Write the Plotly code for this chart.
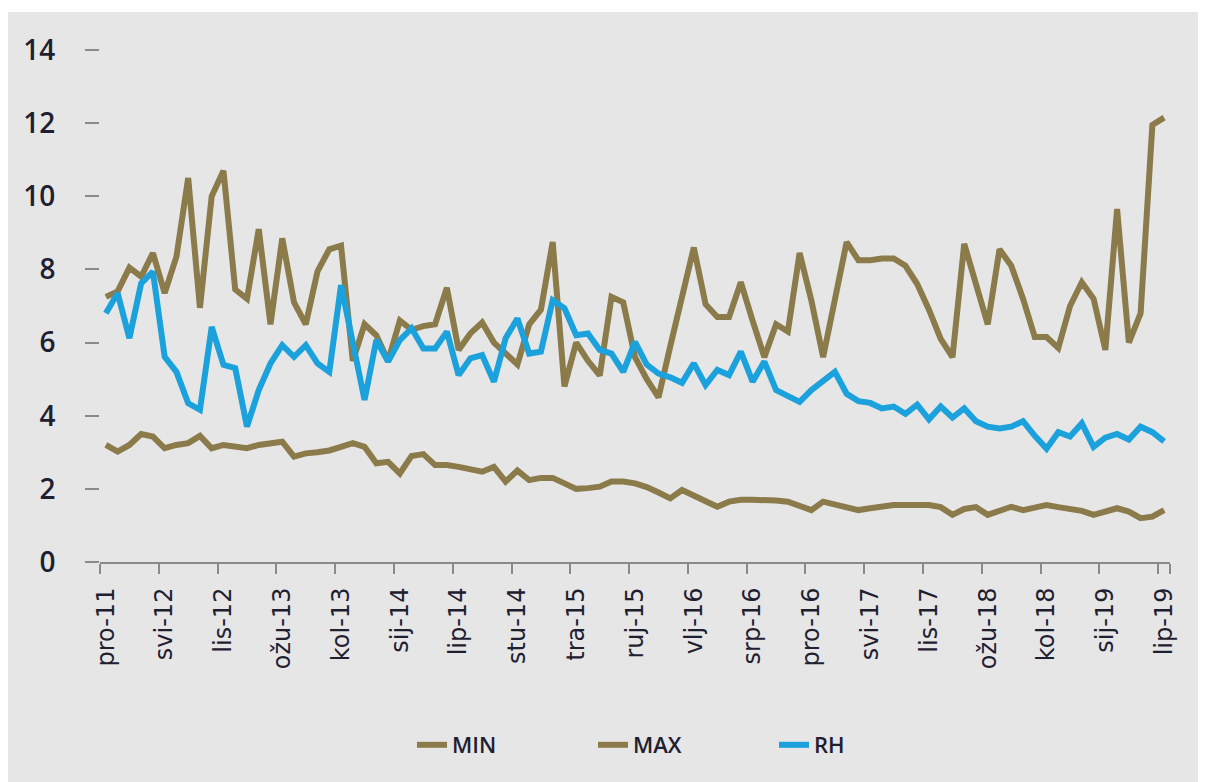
import plotly.graph_objects as go

# Croatian month abbreviations as used on the axis
month_abbr = ["sij", "vlj", "ožu", "tra", "svi", "lip", "srp", "kol", "ruj", "lis", "stu", "pro"]

# Monthly categories: pro-11 ... lip-19 (91 months)
months = []
y, m = 2011, 11  # December 2011 (0-based month index)
while True:
    months.append(f"{month_abbr[m]}-{str(y)[2:]}")
    if y == 2019 and m == 5:
        break
    m += 1
    if m == 12:
        m = 0
        y += 1

tick_labels = months[::5]

min_vals = [3.2, 3.02, 3.2, 3.5, 3.43, 3.11, 3.2, 3.25, 3.45, 3.11,
            3.2, 3.15, 3.11, 3.2, 3.25, 3.29, 2.88, 2.97, 3.0, 3.05,
            3.15, 3.25, 3.15, 2.7, 2.74, 2.42, 2.9, 2.95, 2.65, 2.65,
            2.6, 2.55, 2.47, 2.6, 2.2, 2.5, 2.24, 2.3, 2.3, 2.15,
            2.0, 2.02, 2.06, 2.2, 2.2, 2.15, 2.05, 1.9, 1.74, 1.97,
            1.83, 1.65, 1.51, 1.65, 1.7, 1.7, 1.7, 1.68, 1.65, 1.55,
            1.42, 1.65, 1.56, 1.48, 1.42, 1.47, 1.52, 1.56, 1.56, 1.56,
            1.56, 1.5, 1.29, 1.45, 1.5, 1.29, 1.4, 1.51, 1.42, 1.5,
            1.56, 1.5, 1.47, 1.4, 1.29, 1.4, 1.47, 1.38, 1.2, 1.24,
            1.42]

max_vals = [7.25, 7.4, 8.05, 7.8, 8.45, 7.35, 8.35, 10.5, 6.95, 10.0,
            10.7, 7.45, 7.2, 9.1, 6.5, 8.85, 7.1, 6.5, 7.95, 8.55,
            8.65, 5.5, 6.5, 6.2, 5.5, 6.6, 6.35, 6.45, 6.5, 7.5,
            5.8, 6.25, 6.55, 6.0, 5.7, 5.4, 6.5, 6.9, 8.75, 4.8,
            6.0, 5.5, 5.1, 7.25, 7.1, 5.6, 5.0, 4.5, 5.9, 7.3,
            8.6, 7.05, 6.7, 6.7, 7.65, 6.6, 5.6, 6.5, 6.3, 8.45,
            7.15, 5.6, 7.1, 8.75, 8.25, 8.25, 8.3, 8.3, 8.1, 7.6,
            6.9, 6.1, 5.6, 8.7, 7.6, 6.5, 8.55, 8.1, 7.2, 6.15,
            6.15, 5.85, 7.0, 7.65, 7.2, 5.8, 9.65, 6.0, 6.8, 11.95,
            12.15]

rh_vals = [6.8, 7.35, 6.12, 7.62, 7.94, 5.61, 5.2, 4.34, 4.16, 6.43,
           5.39, 5.3, 3.7, 4.7, 5.43, 5.93, 5.61, 5.93, 5.43, 5.2,
           7.57, 6.0, 4.43, 6.07, 5.48, 6.07, 6.39, 5.84, 5.84, 6.3,
           5.11, 5.57, 5.66, 4.93, 6.12, 6.66, 5.7, 5.75, 7.16, 6.94,
           6.2, 6.25, 5.8, 5.7, 5.2, 6.02, 5.4, 5.15, 5.05, 4.9,
           5.43, 4.84, 5.25, 5.11, 5.75, 4.93, 5.48, 4.7, 4.55, 4.38,
           4.7, 4.95, 5.2, 4.6, 4.4, 4.35, 4.2, 4.25, 4.05, 4.3,
           3.9, 4.25, 3.95, 4.2, 3.85, 3.7, 3.65, 3.7, 3.85, 3.45,
           3.1, 3.55, 3.43, 3.79, 3.15, 3.4, 3.5, 3.35, 3.7, 3.55,
           3.3]

y_ticks = [0, 2, 4, 6, 8, 10, 12, 14]

GOLD = "#8b7b4b"
BLUE = "#1ba1dc"
BG = "#e6e6e6"
TXT = "#1e2030"
AX = "#8a8a8a"

fig = go.Figure()
for name, vals, col in [("MIN", min_vals, GOLD), ("MAX", max_vals, GOLD), ("RH", rh_vals, BLUE)]:
    fig.add_trace(go.Scatter(x=months, y=vals, name=name, mode="lines",
                             line=dict(color=col, width=6)))

# figure is placed at (8, 8) in the page by the default body margin
W, H = 1198, 774
L, R, T, B = 92, 36, 42, 220
pw, ph = W - L - R, H - T - B

def px_x(p):
    return (p - L) / pw

def px_y(p):
    return (H - B - p) / ph

fig.update_layout(
    width=W, height=H,
    margin=dict(l=L, r=R, t=T, b=B),
    paper_bgcolor=BG, plot_bgcolor=BG,
    showlegend=True,
    legend=dict(orientation="h", x=px_x(404), xanchor="left", y=px_y(737), yanchor="middle",
                font=dict(family="Open Sans, DejaVu Sans", size=22, color=TXT, weight=600),
                entrywidth=136, entrywidthmode="pixels", bgcolor="rgba(0,0,0,0)"),
    xaxis=dict(type="category", range=[-0.5, len(months) - 0.5],
               tickmode="array", tickvals=tick_labels, ticktext=tick_labels,
               tickson="boundaries", ticks="outside", ticklen=10, tickwidth=2, tickcolor=AX,
               showline=True, linecolor=AX, linewidth=2,
               showgrid=False, zeroline=False, tickangle=-90, ticklabelstandoff=14,
               tickfont=dict(family="DejaVu Sans", size=24, color=TXT)),
    yaxis=dict(range=[0, 14], tickvals=y_ticks, ticks="outside", ticklen=14, tickwidth=2,
               tickcolor=AX, showline=False, showgrid=False, zeroline=False,
               ticklabelstandoff=24,
               tickfont=dict(family="Open Sans, DejaVu Sans", size=28, color=TXT, weight=600)),
    shapes=[
        dict(type="rect", xref="paper", yref="paper", x0=px_x(0), x1=px_x(W), y0=px_y(4), y1=px_y(0),
             fillcolor="white", line=dict(width=0), layer="below"),
    ],
)

fig.write_html("out.html")
